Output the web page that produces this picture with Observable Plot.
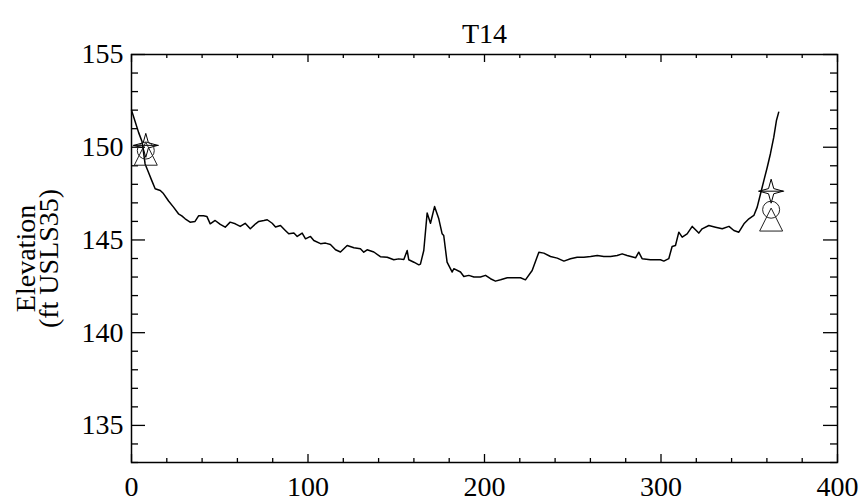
<!DOCTYPE html>
<html>
<head>
<meta charset="utf-8">
<script src="https://cdn.jsdelivr.net/npm/d3@7"></script>
<script src="https://cdn.jsdelivr.net/npm/@observablehq/plot@0.6"></script>
<style>
  html, body { margin: 0; padding: 0; background: #fff; }
  #chart svg, #chart svg text { font-family: "Liberation Serif", "Times New Roman", serif !important; }
</style>
</head>
<body>
<div id="chart"></div>
<script>
// ---- data ----
const title = "T14";
const yLabel1 = "Elevation";
const yLabel2 = "(ft USLS35)";

const distance = [0, 2, 4, 6, 7.7, 9.6, 11.5, 13.4, 16.3, 18.1, 21, 23.8, 26.6, 28.5, 30.4, 33.2, 36, 38, 40.8, 42.7, 44.6, 47.4, 50.3, 53.1, 55.9, 58.8, 61.6, 64.4, 67.3, 70.3, 72.1, 75, 76.9, 79.7, 81.6, 84.4, 87.3, 89.1, 92, 93.9, 96.7, 98.6, 101.4, 103.3, 107.1, 109.9, 112.7, 115.6, 118.4, 122.2, 126, 129.7, 131.6, 133.5, 137.3, 141, 144.9, 148.6, 151.4, 154.3, 156.2, 157.1, 160, 162.8, 163.7, 165.6, 167.5, 169.4, 171.7, 174.1, 176, 176.9, 178.8, 181.7, 182.6, 186.4, 188.3, 191.1, 194, 197.7, 200.6, 203.4, 206.2, 209.1, 212.9, 216.6, 220.4, 223.2, 227, 230.8, 233.6, 237.4, 241.2, 245, 248.7, 252.5, 256.3, 260.1, 263.9, 267.6, 271.4, 275.2, 278, 280.8, 285.6, 287.4, 289.3, 294, 299.7, 301.6, 304.4, 306.3, 308.2, 310.1, 312, 314.8, 317.7, 321.4, 323.3, 327.1, 330.9, 334.7, 338.5, 341.3, 344.1, 347, 349.8, 352.6, 354.5, 356.4, 358.3, 360.2, 362, 363.9, 365.4, 366.7];
const elevation = [152.0, 151.4, 150.8, 150.3, 149.1, 148.65, 148.2, 147.76, 147.67, 147.5, 147.1, 146.77, 146.41, 146.3, 146.14, 145.96, 146.0, 146.3, 146.3, 146.27, 145.87, 146.05, 145.84, 145.69, 145.96, 145.87, 145.73, 145.9, 145.6, 145.87, 146.0, 146.05, 146.09, 145.9, 145.7, 145.78, 145.5, 145.33, 145.37, 145.19, 145.37, 145.06, 145.19, 144.97, 144.8, 144.83, 144.76, 144.47, 144.35, 144.7, 144.58, 144.53, 144.34, 144.47, 144.35, 144.1, 144.07, 143.93, 143.98, 143.95, 144.43, 143.93, 143.8, 143.66, 143.7, 144.43, 146.45, 145.9, 146.8, 146.14, 145.33, 145.24, 143.8, 143.27, 143.45, 143.27, 143.03, 143.09, 143.0, 143.0, 143.09, 142.91, 142.78, 142.85, 142.96, 142.96, 142.96, 142.85, 143.35, 144.34, 144.29, 144.11, 144.02, 143.86, 143.99, 144.07, 144.07, 144.11, 144.16, 144.11, 144.11, 144.16, 144.25, 144.16, 144.04, 144.34, 143.99, 143.93, 143.93, 143.86, 143.99, 144.65, 144.7, 145.42, 145.15, 145.33, 145.73, 145.37, 145.6, 145.78, 145.69, 145.6, 145.73, 145.51, 145.42, 145.87, 146.14, 146.32, 146.77, 147.49, 148.21, 148.92, 149.65, 150.54, 151.44, 151.89];

const markerDistance = [8.1, 362.4];
const starElevation = [150.1, 147.63];
const circleElevation = [149.82, 146.63];
const triangleElevation = [149.65, 146.1];

const xTicks = [0, 100, 200, 300, 400];
const yTicks = [135, 140, 145, 150, 155];
const xMinor = [20, 40, 60, 80, 120, 140, 160, 180, 220, 240, 260, 280, 320, 340, 360, 380];
const yMinor = [133, 134, 136, 137, 138, 139, 141, 142, 143, 144, 146, 147, 148, 149, 151, 152, 153, 154];

// ---- build ----
const profile = distance.map((d, i) => ({d, e: elevation[i]}));
const stars = markerDistance.map((d, i) => ({d, e: starElevation[i]}));
const circles = markerDistance.map((d, i) => ({d, e: circleElevation[i]}));
const triangles = markerDistance.map((d, i) => ({d, e: triangleElevation[i]}));

const W = 862, H = 501;
const mL = 131, mR = 25, mT = 54, mB = 39;
const fw = W - mL - mR, fh = H - mT - mB;

const starSymbol = {
  draw(ctx) {
    const R = 12, r = 2.6;
    ctx.moveTo(0, -R);
    ctx.lineTo(r, -r);
    ctx.lineTo(R, 0);
    ctx.lineTo(r, r);
    ctx.lineTo(0, R);
    ctx.lineTo(-r, r);
    ctx.lineTo(-R, 0);
    ctx.lineTo(-r, -r);
    ctx.closePath();
    ctx.moveTo(-13, 0);
    ctx.lineTo(13, 0);
  }
};
const triSymbol = {
  draw(ctx) {
    const a = 11.5;
    ctx.moveTo(0, -a);
    ctx.lineTo(a, a);
    ctx.lineTo(-a, a);
    ctx.closePath();
  }
};

const font = "Liberation Serif";

const chart = Plot.plot({
  width: W,
  height: H,
  marginLeft: mL,
  marginRight: mR,
  marginTop: mT,
  marginBottom: mB,
  style: {fontFamily: font, fontSize: "28px", color: "black", background: "white"},
  x: {domain: [0, 400], label: null},
  y: {domain: [133, 155], label: null},
  marks: [
    // tick marks, pointing inward on all four sides
    Plot.ruleX(xTicks, {x: d => d, insetTop: fh - 8, stroke: "black", strokeWidth: 1.3}),
    Plot.ruleX(xTicks, {x: d => d, insetBottom: fh - 8, stroke: "black", strokeWidth: 1.3}),
    Plot.ruleX(xMinor, {x: d => d, insetTop: fh - 4, stroke: "black", strokeWidth: 1.3}),
    Plot.ruleX(xMinor, {x: d => d, insetBottom: fh - 4, stroke: "black", strokeWidth: 1.3}),
    Plot.ruleY(yTicks, {y: d => d, insetRight: fw - 14, stroke: "black", strokeWidth: 1.3}),
    Plot.ruleY(yTicks, {y: d => d, insetLeft: fw - 14, stroke: "black", strokeWidth: 1.3}),
    Plot.ruleY(yMinor, {y: d => d, insetRight: fw - 7, stroke: "black", strokeWidth: 1.3}),
    Plot.ruleY(yMinor, {y: d => d, insetLeft: fw - 7, stroke: "black", strokeWidth: 1.3}),
    Plot.frame({stroke: "black", strokeWidth: 1.5}),
    Plot.axisX(xTicks, {tickSize: 0, tickPadding: 14, fontSize: 28, fontFamily: font, fill: "black"}),
    Plot.axisY(yTicks, {tickSize: 0, tickPadding: 8, fontSize: 28, fontFamily: font, fill: "black"}),
    // profile line
    Plot.line(profile, {x: "d", y: "e", stroke: "black", strokeWidth: 1.5}),
    // survey markers
    Plot.dot(stars, {x: "d", y: "e", symbol: starSymbol, r: 12, fill: "none", stroke: "black", strokeWidth: 1}),
    Plot.dot(circles, {x: "d", y: "e", symbol: "circle", r: 8.5, fill: "none", stroke: "#222", strokeWidth: 1}),
    Plot.dot(triangles, {x: "d", y: "e", symbol: triSymbol, r: 12, fill: "none", stroke: "#222", strokeWidth: 1}),
    // title and y label
    Plot.text([title], {frameAnchor: "top", dy: -12, lineAnchor: "bottom", fontSize: 28, fontFamily: font, fill: "black"}),
    Plot.text([yLabel1], {frameAnchor: "left", rotate: -90, dx: 34 - mL, lineAnchor: "bottom", textAnchor: "middle", fontSize: 28, fontFamily: font, fill: "black"}),
    Plot.text([yLabel2], {frameAnchor: "left", rotate: -90, dx: 57 - mL, lineAnchor: "bottom", textAnchor: "middle", fontSize: 28, fontFamily: font, fill: "black"})
  ]
});
document.getElementById("chart").appendChild(chart);
</script>
</body>
</html>
